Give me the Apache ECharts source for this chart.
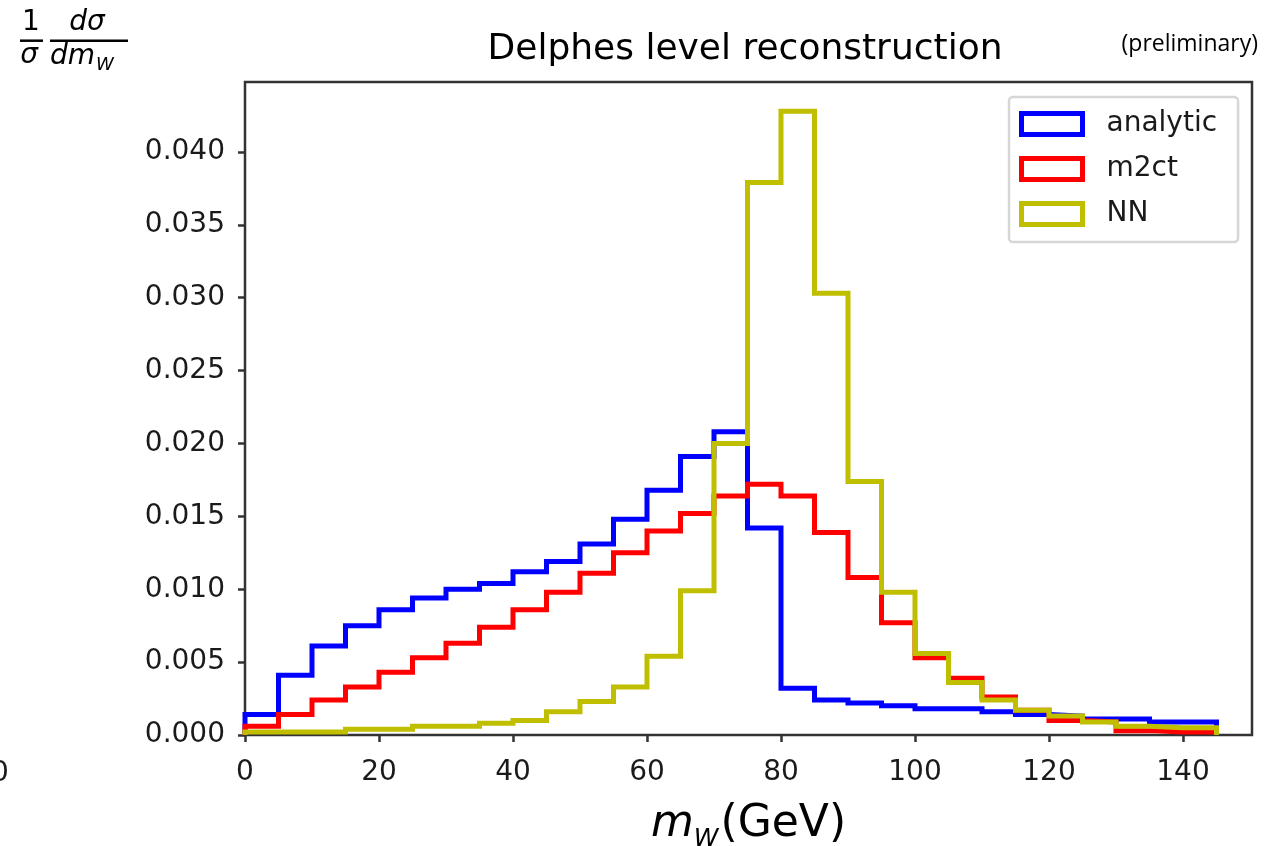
<!DOCTYPE html>
<html>
<head>
<meta charset="utf-8">
<script src="https://cdn.jsdelivr.net/npm/echarts@6/dist/echarts.min.js"></script>
<style>
  html, body { margin: 0; padding: 0; background: #fff; }
  #main { width: 1266px; height: 846px; }
</style>
</head>
<body>
<div id="main"></div>
<script>
// bin edges (GeV), 5 GeV wide
var binEdges = [0, 5, 10, 15, 20, 25, 30, 35, 40, 45, 50, 55, 60, 65, 70, 75,
  80, 85, 90, 95, 100, 105, 110, 115, 120, 125, 130, 135, 140, 145];

// normalised bin contents, one per bin
var analytic = [0.0014, 0.0041, 0.0061, 0.0075, 0.0086, 0.0094, 0.0100, 0.0104, 0.0112, 0.0119,
  0.0131, 0.0148, 0.0168, 0.0191, 0.0208, 0.0142, 0.0032, 0.0024, 0.0022, 0.0020,
  0.0018, 0.0018, 0.0016, 0.0014, 0.0013, 0.0011, 0.0011, 0.0009, 0.0009];
var m2ct = [0.0006, 0.0014, 0.0024, 0.0033, 0.0043, 0.0053, 0.0063, 0.0074, 0.0086, 0.0098,
  0.0111, 0.0125, 0.0140, 0.0152, 0.0164, 0.0172, 0.0164, 0.0139, 0.0108, 0.0077,
  0.0053, 0.0039, 0.0026, 0.0017, 0.0010, 0.0009, 0.0003, 0.0002, 0.0002];
var nn = [0.0002, 0.0002, 0.0002, 0.0004, 0.0004, 0.0006, 0.0006, 0.0008, 0.0010, 0.0016,
  0.0023, 0.0033, 0.0054, 0.0099, 0.0200, 0.0379, 0.0428, 0.0303, 0.0174, 0.0098,
  0.0056, 0.0036, 0.0024, 0.0017, 0.0013, 0.0009, 0.0006, 0.0005, 0.0005];

var xTicks = [0, 20, 40, 60, 80, 100, 120, 140];
var yTicks = [0, 0.005, 0.010, 0.015, 0.020, 0.025, 0.030, 0.035, 0.040];

var FONT = 'DejaVu Sans';
var AXIS = '#333';

// histtype='step': go up at the first edge, down at the last one
function stepPoints(vals) {
  var pts = [[binEdges[0], 0]];
  for (var i = 0; i < vals.length; i++) {
    pts.push([binEdges[i], vals[i]]);
  }
  var last = binEdges[binEdges.length - 1];
  pts.push([last, vals[vals.length - 1]]);
  pts.push([last, 0]);
  return pts;
}

function histSeries(name, vals, color) {
  return {
    name: name,
    type: 'line',
    step: 'end',
    data: stepPoints(vals),
    showSymbol: false,
    color: color,
    lineStyle: { color: color, width: 5, join: 'miter', cap: 'butt' },
    emphasis: { disabled: true }
  };
}

var chart = echarts.init(document.getElementById('main'));
chart.setOption({
  animation: false,
  backgroundColor: '#fff',
  grid: {
    left: 245, right: 14, top: 82, bottom: 111,
    outerBoundsMode: 'none',
    containLabel: false,
    show: true, borderColor: AXIS, borderWidth: 2.5, backgroundColor: 'transparent'
  },
  legend: {
    left: 1009, top: 97,
    orient: 'vertical',
    icon: 'rect',
    itemWidth: 61, itemHeight: 21, itemGap: 15,
    padding: [12, 21, 13, 10],
    backgroundColor: '#fff',
    borderColor: '#d6d6d6', borderWidth: 2.5, borderRadius: 4,
    textStyle: { fontFamily: FONT, fontSize: 28, color: '#1a1a1a', padding: [0, 0, 0, 19], lineHeight: 30 },
    data: [
      { name: 'analytic', itemStyle: { color: '#fff', borderColor: '#0000ff', borderWidth: 5 } },
      { name: 'm2ct', itemStyle: { color: '#fff', borderColor: '#ff0000', borderWidth: 5 } },
      { name: 'NN', itemStyle: { color: '#fff', borderColor: '#bfbf00', borderWidth: 5 } }
    ]
  },
  xAxis: {
    type: 'value', min: 0, max: 150.3,
    axisLine: { show: false },
    axisTick: { show: true, length: 7, customValues: xTicks, lineStyle: { color: AXIS, width: 2.5 } },
    axisLabel: { customValues: xTicks, margin: 24, fontFamily: FONT, fontSize: 28, color: '#1a1a1a' },
    splitLine: { show: false },
    name: '{i|m}{s|W}{n|(GeV)}',
    nameLocation: 'middle',
    nameGap: 68,
    nameTextStyle: {
      rich: {
        i: { fontFamily: FONT, fontStyle: 'italic', fontSize: 44, color: '#000', verticalAlign: 'top', lineHeight: 50 },
        s: { fontFamily: FONT, fontStyle: 'italic', fontSize: 25, color: '#000', verticalAlign: 'top', lineHeight: 30, padding: [24, 2, 0, 0] },
        n: { fontFamily: FONT, fontSize: 44, color: '#000', verticalAlign: 'top', lineHeight: 50 }
      }
    }
  },
  yAxis: {
    type: 'value', min: 0, max: 0.0448,
    axisLine: { show: false },
    axisTick: { show: true, length: 7, customValues: yTicks, lineStyle: { color: AXIS, width: 2.5 } },
    axisLabel: {
      customValues: yTicks, margin: 20, fontFamily: FONT, fontSize: 28, color: '#1a1a1a',
      formatter: function (v) { return v.toFixed(3); }
    },
    splitLine: { show: false }
  },
  graphic: [
    { type: 'text', x: 745, y: 50,
      style: { text: 'Delphes level reconstruction', font: '36px DejaVu Sans', fill: '#000',
        align: 'center', verticalAlign: 'middle', textAlign: 'center', textVerticalAlign: 'middle' } },
    { type: 'text', x: 1258, y: 44,
      style: { text: '(preliminary)', font: '23px "Open Sans"', fill: '#000',
        align: 'right', verticalAlign: 'middle', textAlign: 'right', textVerticalAlign: 'middle' } },
    // 1/sigma dsigma/dm_W
    { type: 'text', x: 31, y: 23,
      style: { text: '1', font: '28px DejaVu Sans', fill: '#000',
        align: 'center', verticalAlign: 'middle', textAlign: 'center', textVerticalAlign: 'middle' } },
    { type: 'line', shape: { x1: 20, y1: 40.7, x2: 43, y2: 40.7 }, style: { stroke: '#000', lineWidth: 2.5 } },
    { type: 'text', x: 29, y: 56,
      style: { text: 'σ', font: 'italic 28px DejaVu Sans', fill: '#000',
        align: 'center', verticalAlign: 'middle', textAlign: 'center', textVerticalAlign: 'middle' } },
    { type: 'text', x: 87, y: 23,
      style: { text: 'dσ', font: 'italic 28px DejaVu Sans', fill: '#000',
        align: 'center', verticalAlign: 'middle', textAlign: 'center', textVerticalAlign: 'middle' } },
    { type: 'line', shape: { x1: 50, y1: 40.7, x2: 128, y2: 40.7 }, style: { stroke: '#000', lineWidth: 2.5 } },
    { type: 'text', x: 50, y: 43,
      style: { text: '{i|dm}{s|W}',
        rich: {
          i: { fontFamily: FONT, fontStyle: 'italic', fontSize: 28, fill: '#000', verticalAlign: 'top', lineHeight: 32 },
          s: { fontFamily: FONT, fontStyle: 'italic', fontSize: 18, fill: '#000', verticalAlign: 'top', lineHeight: 22, padding: [13, 0, 0, 1] }
        } } },
    // clipped tick label at the left edge
    { type: 'text', x: -9, y: 774,
      style: { text: '0', font: '28px DejaVu Sans', fill: '#1a1a1a',
        align: 'left', verticalAlign: 'middle', textAlign: 'left', textVerticalAlign: 'middle' } }
  ],
  series: [
    histSeries('analytic', analytic, '#0000ff'),
    histSeries('m2ct', m2ct, '#ff0000'),
    histSeries('NN', nn, '#bfbf00')
  ]
});
</script>
</body>
</html>
